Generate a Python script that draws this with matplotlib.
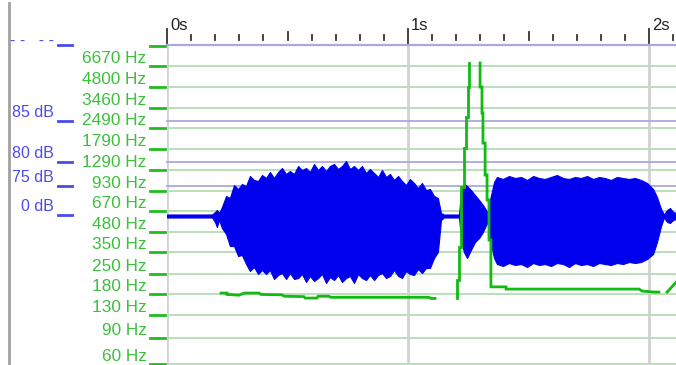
import numpy as np
import matplotlib
matplotlib.use('Agg')
from matplotlib import pyplot as plt
from matplotlib import transforms
from matplotlib.lines import Line2D

plt.rcParams['font.family'] = ['Liberation Sans', 'DejaVu Sans']

# time ruler
time_marks = [0, 1, 2]
time_labels = ['0s', '1s', '2s']

# pitch scale (Hz), log
hz_ticks = [6670, 4800, 3460, 2490, 1790, 1290, 930, 670, 480, 350, 250, 180, 130, 90, 60]
hz_labels = [str(h) + ' Hz' for h in hz_ticks]

# level labels on the far left
db_labels = ['- -   - -', '85 dB', '80 dB', '75 dB', '0 dB']

# waveform envelope: time [s], upper / lower amplitude
wave_t = [0.000, 0.187, 0.199, 0.207, 0.216,
          0.228, 0.245, 0.261, 0.278, 0.295, 0.311, 0.328, 0.344, 0.361, 0.378,
          0.394, 0.411, 0.427, 0.444, 0.461, 0.477, 0.494, 0.510, 0.527, 0.544,
          0.560, 0.577, 0.593, 0.610, 0.627, 0.643, 0.660, 0.676, 0.693, 0.710,
          0.726, 0.743, 0.759, 0.776, 0.793, 0.809, 0.826, 0.842, 0.859, 0.876,
          0.892, 0.909, 0.925, 0.942, 0.959, 0.975, 0.992, 1.008, 1.025, 1.041,
          1.058, 1.075, 1.091, 1.108, 1.124,
          1.137, 1.149, 1.212, 1.220, 1.232, 1.245, 1.261, 1.278, 1.295, 1.311,
          1.324, 1.332, 1.340,
          1.357, 1.369, 1.394, 1.419, 1.444, 1.469, 1.494, 1.519, 1.544, 1.568,
          1.593, 1.618, 1.643, 1.668, 1.693, 1.718, 1.743, 1.768, 1.793, 1.817,
          1.842, 1.867, 1.892, 1.917, 1.942, 1.967, 1.992, 2.017, 2.033, 2.050,
          2.062,
          2.075, 2.087, 2.100, 2.112]
wave_top = [0.015, 0.015, 0.04, 0.06, 0.03,
            0.09, 0.20, 0.18, 0.31, 0.27, 0.32, 0.30, 0.40, 0.36, 0.35,
            0.41, 0.38, 0.44, 0.38, 0.44, 0.48, 0.42, 0.45, 0.42, 0.50,
            0.46, 0.48, 0.44, 0.52, 0.46, 0.50, 0.45, 0.50, 0.52, 0.47,
            0.50, 0.55, 0.47, 0.50, 0.46, 0.50, 0.43, 0.47, 0.43, 0.39,
            0.46, 0.39, 0.42, 0.36, 0.40, 0.35, 0.31, 0.37, 0.33, 0.28,
            0.33, 0.26, 0.27, 0.20, 0.18,
            0.03, 0.015, 0.015, 0.26, 0.32, 0.30, 0.26, 0.21, 0.16, 0.11,
            0.06, 0.03, 0.16,
            0.34, 0.39, 0.37, 0.40, 0.38, 0.39, 0.36, 0.40, 0.38, 0.37,
            0.39, 0.41, 0.38, 0.37, 0.39, 0.38, 0.40, 0.37, 0.39, 0.38,
            0.36, 0.39, 0.38, 0.37, 0.38, 0.36, 0.33, 0.27, 0.19, 0.07,
            0.015,
            0.06, 0.08, 0.04, 0.03]
wave_bot = [-0.015, -0.015, -0.06, -0.11, -0.04,
            -0.12, -0.18, -0.30, -0.30, -0.40, -0.39, -0.48, -0.55, -0.51, -0.58,
            -0.54, -0.58, -0.54, -0.63, -0.59, -0.57, -0.63, -0.57, -0.63, -0.62,
            -0.58, -0.66, -0.60, -0.65, -0.62, -0.58, -0.67, -0.61, -0.64, -0.59,
            -0.66, -0.62, -0.60, -0.67, -0.58, -0.62, -0.64, -0.59, -0.64, -0.59,
            -0.57, -0.62, -0.60, -0.54, -0.60, -0.62, -0.55, -0.58, -0.59, -0.53,
            -0.57, -0.52, -0.52, -0.42, -0.36,
            -0.04, -0.015, -0.015, -0.24, -0.36, -0.42, -0.34, -0.26, -0.22, -0.16,
            -0.09, -0.06, -0.24,
            -0.42, -0.48, -0.50, -0.47, -0.49, -0.48, -0.51, -0.47, -0.49, -0.48,
            -0.50, -0.47, -0.48, -0.51, -0.47, -0.49, -0.48, -0.50, -0.47, -0.48,
            -0.49, -0.47, -0.48, -0.46, -0.47, -0.46, -0.43, -0.38, -0.26, -0.10,
            -0.015,
            -0.06, -0.07, -0.04, -0.03]

# pitch track, in pieces
p1_t = [0.224, 0.249, 0.249, 0.299, 0.320, 0.382, 0.390, 0.477, 0.486, 0.568,
        0.573, 0.622, 0.627, 0.672, 0.680, 1.087, 1.095, 1.112]
p1_hz = [184, 184, 180, 178, 184, 184, 180, 179, 175, 174,
         170, 170, 175, 175, 172, 172, 169, 169]

p2_t = [1.203, 1.203, 1.212, 1.212, 1.220, 1.220, 1.232, 1.232, 1.241, 1.241,
        1.249, 1.249, 1.253, 1.253]
p2_hz = [170, 226, 226, 381, 381, 985, 985, 1825, 1825, 2979,
         2979, 4786, 4786, 7000]

p3_t = [1.299, 1.299, 1.307, 1.307, 1.311, 1.311, 1.320, 1.320, 1.328, 1.328,
        1.336, 1.336, 1.344, 1.344, 1.407, 1.407, 1.959, 1.971, 2.021, 2.041]
p3_hz = [7000, 4786, 4786, 3172, 3172, 1974, 1974, 1190, 1190, 802,
         802, 426, 426, 203, 203, 196, 196, 190, 187, 187]

p4_t = [2.075, 2.112]
p4_hz = [187, 218]

# colours
grid_green = '#b4dcb4'
grid_blue = '#a9a9dd'
tick_green = '#22bb22'
text_green = '#3cc03c'
text_blue = '#4b4bea'
wave_blue = '#0000ee'
pitch_green = '#11bb11'

W, H = 676, 365
fx = lambda px: px / W
fy = lambda py: 1 - py / H

fig = plt.figure(figsize=(W / 100, H / 100), dpi=100)
rect = [fx(167), 0, 509 / W, 320 / H]

# bottom layer: grid (log Hz)
ax = fig.add_axes(rect)
ax.set_yscale('log')
ax.set_ylim(59, 9300)
ax.set_xlim(0, 509 / 241)
ax.axis('off')

# middle layer: waveform
axw = fig.add_axes(rect, sharex=ax)
axw.set_ylim(-1.49, 1.71)
axw.axis('off')

# top layer: pitch
axp = fig.add_axes(rect, sharex=ax)
axp.set_yscale('log')
axp.set_ylim(59, 9300)
axp.axis('off')

for h in hz_ticks:
    ax.axhline(h, color=grid_green, lw=1.3, zorder=1)
for t in time_marks:
    ax.axvline(t, color='#d2d2d2', lw=2, zorder=1)

db_rows = [45, 121, 162, 186, 215]  # pixel rows of the level marks
for py in db_rows[:4]:
    fr = (365 - py) / 320
    ax.plot([0, 1], [fr, fr], transform=ax.transAxes, color=grid_blue,
            lw=1.6 if py == 45 else 1.3, clip_on=False, zorder=2)

axw.fill_between(wave_t, wave_top, wave_bot, color=wave_blue, edgecolor=wave_blue, lw=0.8)

for tt, hh in [(p1_t, p1_hz), (p2_t, p2_hz), (p3_t, p3_hz), (p4_t, p4_hz)]:
    axp.plot(tt, hh, color=pitch_green, lw=2.0, solid_joinstyle='miter')

# Hz labels and ticks
trans_hz = transforms.blended_transform_factory(fig.transFigure, ax.transData)
lab_tr = transforms.offset_copy(trans_hz, fig=fig, y=3, units='dots')
for h, lab in zip(hz_ticks, hz_labels):
    ax.text(fx(146.5), h, lab, transform=lab_tr, ha='right', va='baseline',
            color=text_green, fontsize=12.4, clip_on=False)
    ax.plot([fx(150), fx(165)], [h, h], transform=trans_hz, color=tick_green,
            lw=2, clip_on=False)
fig.add_artist(Line2D([fx(150), fx(165)], [fy(45.5)] * 2, color=tick_green, lw=2))

# level labels and ticks
for py, lab in zip(db_rows, db_labels):
    off = 0 if lab.startswith('-') else 4
    fig.text(fx(53.5), fy(py - off), lab, ha='right', va='baseline',
             color=text_blue, fontsize=11.5)
    fig.add_artist(Line2D([fx(58), fx(72)], [fy(py)] * 2, color=text_blue, lw=2))

# time ruler
trans_t = transforms.blended_transform_factory(ax.transData, fig.transFigure)
for k in range(22):
    t = k / 10
    if k % 10 == 0:
        y0, y1 = 29, 43
    elif k % 5 == 0:
        y0, y1 = 32, 40
    else:
        y0, y1 = 35, 40
    ax.plot([t, t], [fy(y0), fy(y1)], transform=trans_t, color='#333333',
            lw=1.3, clip_on=False)
lab_t = transforms.offset_copy(trans_t, fig=fig, x=3, units='dots')
for t, lab in zip(time_marks, time_labels):
    ax.text(t, fy(29.5), lab, transform=lab_t, ha='left', va='baseline',
            fontsize=12, color='#222222', clip_on=False)

# left border
fig.add_artist(Line2D([fx(8.5)] * 2, [fy(3), 0], color='#a0a0a0', lw=2))

fig.savefig('out.png', dpi=100)
